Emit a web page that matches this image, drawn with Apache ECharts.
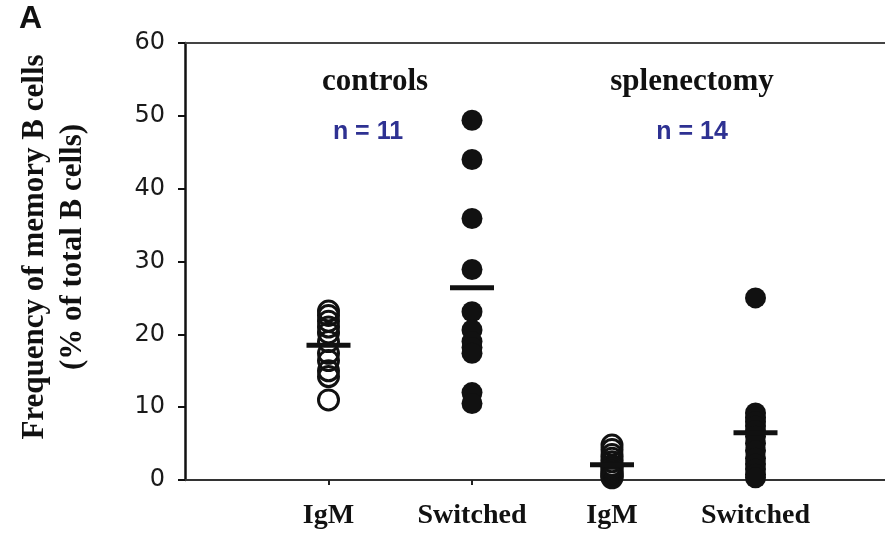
<!DOCTYPE html>
<html>
<head>
<meta charset="utf-8">
<script src="https://cdn.jsdelivr.net/npm/echarts@6/dist/echarts.min.js"></script>
<style>
  html, body {margin: 0; padding: 0; background: #fff;}
  #chart {width: 885px; height: 537px;}
</style>
</head>
<body>
<div id="chart"></div>
<script>
// groups along the x axis (left to right)
const groupNames = ['IgM', 'Switched', 'IgM', 'Switched'];
const groupX = [2.05, 4.1, 6.1, 8.15];

// frequency of memory B cells (% of total B cells)
const ctrlIgM = [23.2, 22.6, 21.8, 21.0, 20.2, 19.0, 17.4, 16.4, 15.0, 14.2, 11.0];
const ctrlSwitched = [49.4, 44.0, 35.9, 28.9, 23.1, 20.6, 19.0, 18.2, 17.4, 12.0, 10.5];
const splIgM = [4.8, 4.2, 3.5, 3.0, 2.5, 2.0, 1.8, 1.5, 1.2, 1.0, 0.8, 0.6, 0.5, 0.3];
const splSwitched = [25.0, 9.2, 8.6, 8.0, 7.4, 6.8, 6.0, 5.0, 4.0, 3.0, 2.2, 1.5, 0.8, 0.3];

// mean bars drawn in each group
const groupMeans = [18.5, 26.4, 2.1, 6.5];

const yMin = 0, yMax = 60, yStep = 10;

const px = (i, vals) => vals.map(v => [groupX[i], v]);

const chart = echarts.init(document.getElementById('chart'));
const serif = 'Liberation Serif';
const sans = 'Liberation Sans';

const txt = (x, y, text, family, size, fill, extra) => ({
  type: 'text', x, y, ...extra,
  style: {text, fontFamily: family, fontWeight: 'bold', fontSize: size, fill,
    align: 'center', verticalAlign: 'middle', ...(extra && extra.style)}
});

chart.setOption({
  animation: false,
  grid: {left: 185, right: 0, top: 43, bottom: 57},
  xAxis: [
    {
      type: 'value', min: 0, max: 10,
      splitLine: {show: false},
      axisLine: {lineStyle: {color: '#333', width: 2}},
      axisTick: {customValues: groupX, length: 5, lineStyle: {color: '#222', width: 2}},
      axisLabel: {
        customValues: groupX,
        margin: 22,
        fontFamily: serif, fontWeight: 'bold', fontSize: 28, color: '#111',
        formatter: v => groupNames[groupX.findIndex(x => Math.abs(x - v) < 1e-6)] || ''
      }
    },
    {
      type: 'value', min: 0, max: 10, position: 'top',
      splitLine: {show: false},
      axisLine: {lineStyle: {color: '#444', width: 2}},
      axisTick: {show: false},
      axisLabel: {show: false}
    }
  ],
  yAxis: {
    type: 'value', min: yMin, max: yMax, interval: yStep,
    splitLine: {show: false},
    axisLine: {lineStyle: {color: '#111', width: 2.5}},
    axisTick: {length: 7, lineStyle: {color: '#111', width: 2}},
    axisLabel: {margin: 20, fontFamily: 'DejaVu Sans', fontSize: 24, color: '#1a1a1a'}
  },
  series: [
    {type: 'scatter', data: px(0, ctrlIgM), symbolSize: 20,
      itemStyle: {color: 'rgba(255,255,255,0)', borderColor: '#111', borderWidth: 3, opacity: 1}},
    {type: 'scatter', data: px(1, ctrlSwitched), symbolSize: 21, itemStyle: {color: '#111', opacity: 1}},
    {type: 'scatter', data: px(2, splIgM), symbolSize: 20,
      itemStyle: {color: 'rgba(255,255,255,0)', borderColor: '#111', borderWidth: 3, opacity: 1}},
    {type: 'scatter', data: px(3, splSwitched), symbolSize: 21, itemStyle: {color: '#111', opacity: 1}},
    {type: 'scatter', z: 5, symbol: 'rect', symbolSize: [44, 5],
      data: groupMeans.map((m, i) => [groupX[i], m]), itemStyle: {color: '#111', opacity: 1}}
  ],
  graphic: [
    {type: 'text', left: 19, top: 3,
      style: {text: 'A', fontFamily: sans, fontWeight: 'bold', fontSize: 32, fill: '#111'}},
    txt(54, 247, 'Frequency of memory B cells\n(% of total B cells)', serif, 31, '#111',
      {rotation: Math.PI / 2, style: {lineHeight: 38}}),
    txt(375, 82, 'controls', serif, 31, '#111'),
    txt(692, 82, 'splenectomy', serif, 31, '#111'),
    txt(368, 132, 'n = 11', sans, 25, '#2e3192'),
    txt(692, 132, 'n = 14', sans, 25, '#2e3192')
  ]
});
</script>
</body>
</html>
